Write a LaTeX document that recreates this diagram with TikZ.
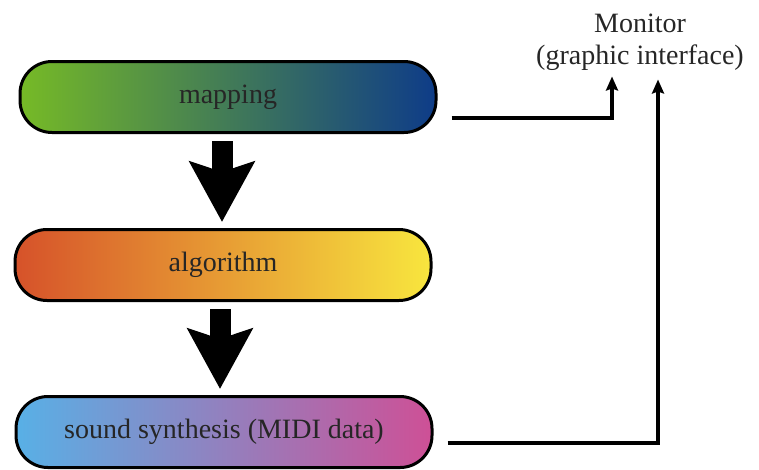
\documentclass[tikz,border=0pt]{standalone}
\usepackage{fontspec}
\setmainfont{Liberation Serif}
\usetikzlibrary{arrows.meta}

\definecolor{mapleft}{RGB}{118,186,38}
\definecolor{mapmid}{RGB}{72,136,112}
\definecolor{mapright}{RGB}{14,60,136}
\definecolor{algleft}{RGB}{214,82,42}
\definecolor{algmid}{RGB}{238,150,46}
\definecolor{algright}{RGB}{248,230,62}
\definecolor{sndleft}{RGB}{88,176,230}
\definecolor{sndmid}{RGB}{174,150,200}
\definecolor{sndright}{RGB}{206,80,150}

\begin{document}
\begin{tikzpicture}
[
x = 1pt, y = -1pt,
stage/.style = {rectangle, draw, line width = 3pt, rounded corners = 32pt, minimum width = 416pt, minimum height = 71pt, font = \fontsize{28}{30}\selectfont, text = black!85},
flow/.style = {line width = 21pt, -{Stealth[length = 60pt, width = 64pt, inset = 10pt]}, shorten <= 7pt, shorten >= 6pt},
link/.style = {line width = 3.6pt, -{Stealth[length = 14pt, width = 12pt, inset = 2pt]}}
]
    \useasboundingbox (0,0) rectangle (759,469);

    \node[stage, left color = mapleft, middle color = mapmid, right color = mapright] (mapping) at (228,97) {mapping};
    \node[stage, left color = algleft, middle color = algmid, right color = algright] (algorithm) at (223,265) {algorithm};
    \node[stage, left color = sndleft, middle color = sndmid, right color = sndright] (synth) at (224,432) {sound synthesis (MIDI data)};
    \node[align = center, font = \fontsize{28}{32}\selectfont, text = black!85, inner sep = 0pt] (monitor) at (640,42) {Monitor\\(graphic interface)};

    \coordinate (in1) at ([xshift = -28pt, yshift = -6pt]monitor.south);
    \coordinate (in2) at ([xshift = 18pt, yshift = -9pt]monitor.south);

    \draw[flow] ([xshift = -6pt]mapping.south) -- ([xshift = -1pt]algorithm.north);
    \draw[flow] ([xshift = -3pt]algorithm.south) -- ([xshift = -4pt]synth.north);
    \draw[link] ([xshift = 14pt, yshift = -21pt]mapping.east) -| (in1);
    \draw[link] ([xshift = 14pt, yshift = -11pt]synth.east) -| (in2);
\end{tikzpicture}
\end{document}
